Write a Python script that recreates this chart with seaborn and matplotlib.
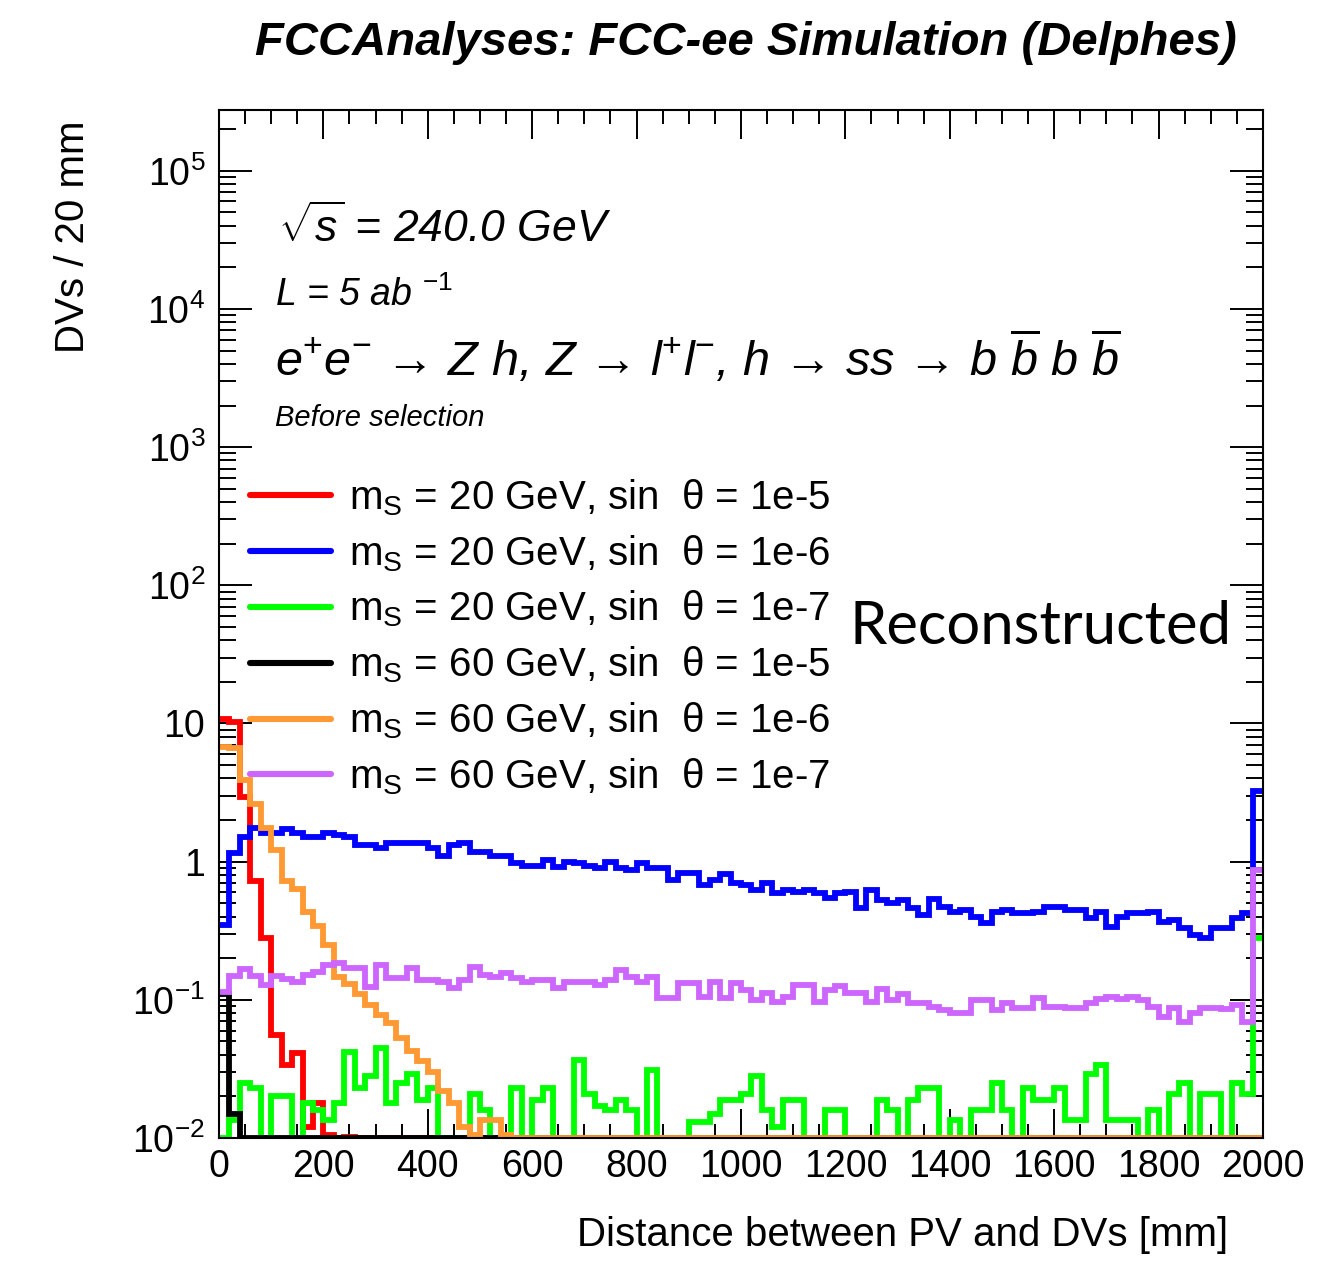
import numpy as np
import pandas as pd
import matplotlib
matplotlib.use("Agg")
import matplotlib.pyplot as plt
from matplotlib.ticker import FixedLocator, MultipleLocator, LogLocator, NullFormatter
import seaborn as sns

# ---------------------------------------------------------------------------
# Distance between primary vertex and displaced vertices, 20 mm bins (0-2000 mm)
# ---------------------------------------------------------------------------
bin_width = 20.0
x_min, x_max = 0.0, 2000.0
y_min, y_max = 1e-2, 2.75e5

labels = [
    r"$\mathrm{m}_{\mathrm{S}}$ = 20 GeV, sin  θ = 1e-5",
    r"$\mathrm{m}_{\mathrm{S}}$ = 20 GeV, sin  θ = 1e-6",
    r"$\mathrm{m}_{\mathrm{S}}$ = 20 GeV, sin  θ = 1e-7",
    r"$\mathrm{m}_{\mathrm{S}}$ = 60 GeV, sin  θ = 1e-5",
    r"$\mathrm{m}_{\mathrm{S}}$ = 60 GeV, sin  θ = 1e-6",
    r"$\mathrm{m}_{\mathrm{S}}$ = 60 GeV, sin  θ = 1e-7",
]
colors = ["#ff0000", "#0000ff", "#00ff00", "#000000", "#ff9933", "#cc66ff"]

ms20_1e5 = [10.7, 10.2, 2.96, 0.72, 0.28, 0.056, 0.034, 0.041, 0.012, 0.018,
            0.0105, 0, 0.0102] + [0] * 87

ms20_1e6 = [0.350, 1.16, 1.52, 1.76, 1.62, 1.62, 1.71, 1.62, 1.52, 1.52,
            1.62, 1.57, 1.52, 1.33, 1.33, 1.26, 1.37, 1.37, 1.37, 1.37,
            1.26, 1.09, 1.33, 1.37, 1.18, 1.18, 1.09, 1.09, 0.983, 0.935,
            0.935, 1.03, 0.920, 1.00, 0.983, 0.935, 0.905, 1.00, 0.905, 0.875,
            0.983, 0.905, 0.905, 0.741, 0.832, 0.832, 0.681, 0.741, 0.818, 0.704,
            0.681, 0.627, 0.704, 0.596, 0.627, 0.606, 0.627, 0.596, 0.548, 0.596,
            0.606, 0.464, 0.627, 0.530, 0.505, 0.530, 0.464, 0.413, 0.539, 0.472,
            0.434, 0.449, 0.399, 0.361, 0.434, 0.449, 0.427, 0.427, 0.434, 0.472,
            0.472, 0.449, 0.449, 0.393, 0.434, 0.338, 0.399, 0.427, 0.427, 0.434,
            0.367, 0.380, 0.333, 0.296, 0.281, 0.333, 0.333, 0.393, 0.427, 3.22]

ms20_1e7 = [0, 0.0135, 0.025, 0.023, 0, 0.020, 0.020, 0, 0.018, 0.016,
            0.0135, 0.018, 0.042, 0.023, 0.028, 0.045, 0.018, 0.025, 0.029, 0.019,
            0.023, 0, 0, 0, 0.021, 0.016, 0, 0, 0.023, 0,
            0.019, 0.023, 0, 0, 0.037, 0.021, 0.017, 0.016, 0.019, 0.016,
            0, 0.031, 0, 0, 0, 0.013, 0.013, 0.015, 0.019, 0.019,
            0.021, 0.028, 0.016, 0.012, 0.019, 0.019, 0, 0, 0.016, 0.016,
            0, 0, 0, 0.019, 0.016, 0, 0.019, 0.023, 0.023, 0,
            0.0135, 0, 0.016, 0.016, 0.025, 0.016, 0, 0.023, 0.019, 0.019,
            0.023, 0.0135, 0.0135, 0.029, 0.034, 0.0135, 0.0135, 0.0135, 0, 0.016,
            0, 0.021, 0.025, 0, 0.021, 0.021, 0, 0.025, 0.021, 0.28]

ms60_1e5 = [0.11, 0.015] + [0] * 98

ms60_1e6 = [6.8, 6.6, 3.9, 2.6, 1.76, 1.22, 0.72, 0.63, 0.43, 0.34,
            0.25, 0.147, 0.13, 0.11, 0.092, 0.078, 0.068, 0.053, 0.043, 0.036,
            0.030, 0.022, 0.018, 0.012, 0.0105, 0.0135, 0.0135, 0.0105] + [0] * 72

ms60_1e7 = [0.114, 0.149, 0.168, 0.149, 0.128, 0.149, 0.142, 0.135, 0.152, 0.160,
            0.179, 0.185, 0.171, 0.171, 0.124, 0.179, 0.144, 0.144, 0.171, 0.140,
            0.140, 0.135, 0.122, 0.140, 0.173, 0.152, 0.147, 0.157, 0.144, 0.135,
            0.140, 0.140, 0.122, 0.135, 0.135, 0.135, 0.128, 0.140, 0.165, 0.147,
            0.135, 0.147, 0.103, 0.103, 0.133, 0.133, 0.105, 0.135, 0.103, 0.133,
            0.118, 0.100, 0.112, 0.0967, 0.105, 0.128, 0.128, 0.0967, 0.118, 0.126,
            0.112, 0.112, 0.0967, 0.120, 0.100, 0.1105, 0.0951, 0.0951, 0.0890, 0.0847,
            0.0805, 0.0805, 0.100, 0.100, 0.0847, 0.0951, 0.0875, 0.0875, 0.103, 0.089,
            0.089, 0.0875, 0.0875, 0.0951, 0.102, 0.105, 0.102, 0.105, 0.100, 0.089,
            0.0753, 0.0875, 0.0693, 0.0805, 0.0875, 0.0875, 0.0861, 0.092, 0.0693, 0.875]

series = [ms20_1e5, ms20_1e6, ms20_1e7, ms60_1e5, ms60_1e6, ms60_1e7]

x_ticks = [0, 200, 400, 600, 800, 1000, 1200, 1400, 1600, 1800, 2000]
y_ticks = [1e-2, 1e-1, 1, 10, 1e2, 1e3, 1e4, 1e5]
y_tick_labels = [r"$10^{-2}$", r"$10^{-1}$", "1", "10",
                 r"$10^{2}$", r"$10^{3}$", r"$10^{4}$", r"$10^{5}$"]

# ---------------------------------------------------------------------------
# Long-form table of step outlines (empty bins sit on the lower frame edge)
# ---------------------------------------------------------------------------
edges = np.arange(x_min, x_max + bin_width / 2, bin_width)
frames = []
for lab, vals in zip(labels, series):
    v = np.clip(np.asarray(vals, dtype=float), y_min, None)
    frames.append(pd.DataFrame({
        "x": edges,
        "y": np.concatenate([v, [v[-1]]]),
        "series": lab,
    }))
df = pd.concat(frames, ignore_index=True)

# ---------------------------------------------------------------------------
# Style
# ---------------------------------------------------------------------------
sns.set_theme(style="ticks")
plt.rcParams["font.family"] = ["Liberation Sans", "DejaVu Sans"]
plt.rcParams["mathtext.fontset"] = "custom"
plt.rcParams["mathtext.rm"] = "Liberation Sans"
plt.rcParams["mathtext.it"] = "Liberation Sans:italic"
plt.rcParams["mathtext.bf"] = "Liberation Sans:bold"
plt.rcParams["mathtext.sf"] = "Liberation Sans"
for key in ["text.color", "axes.labelcolor", "xtick.color", "ytick.color",
            "axes.edgecolor", "xtick.labelcolor", "ytick.labelcolor"]:
    plt.rcParams[key] = "black"

fig = plt.figure(figsize=(13.32, 12.69), dpi=100, facecolor="white")
ax = fig.add_axes([0.1644, 0.1032, 0.7838, 0.8101])
ax.set_facecolor("white")
ax.set_yscale("log")

sns.lineplot(data=df, x="x", y="y", hue="series", hue_order=labels,
             palette=colors, estimator=None, sort=False,
             drawstyle="steps-post", linewidth=4.2, legend=False, ax=ax,
             solid_joinstyle="miter")

ax.set_xlim(x_min, x_max)
ax.set_ylim(y_min, y_max)
ax.set_xlabel("")
ax.set_ylabel("")

ax.xaxis.set_major_locator(FixedLocator(x_ticks))
ax.xaxis.set_minor_locator(MultipleLocator(50))
ax.set_xticklabels([str(t) for t in x_ticks])
ax.yaxis.set_major_locator(FixedLocator(y_ticks))
ax.set_yticklabels(y_tick_labels)
ax.yaxis.set_minor_locator(LogLocator(base=10, subs=np.arange(2, 10)))
ax.yaxis.set_minor_formatter(NullFormatter())

ax.tick_params(which="both", direction="in", top=True, right=True,
               width=1.4, color="black", labelcolor="black")
ax.tick_params(axis="x", which="major", length=21, labelsize=27, pad=8)
ax.tick_params(axis="x", which="minor", length=10)
ax.tick_params(axis="y", which="major", length=24, labelsize=27, pad=10)
ax.tick_params(axis="y", which="minor", length=12)
for sp in ax.spines.values():
    sp.set_linewidth(1.5)
    sp.set_color("black")
    sp.set_zorder(5)

# Legend
leg = ax.legend(ax.lines[:6], labels, loc="upper left",
                bbox_to_anchor=(0.0297, 0.643), frameon=False, fontsize=29,
                handlelength=2.0, handletextpad=0.45, labelspacing=0.38,
                borderpad=0, borderaxespad=0, labelcolor="black")
for h in leg.get_lines():
    h.set_linewidth(4.4)

# Annotations inside the frame
ax.text(0.0565, 0.885, r"$\sqrt{s}$ = 240.0 GeV", transform=ax.transAxes,
        fontsize=32, fontstyle="italic", ha="left", va="center")
ax.text(0.0536, 0.820, r"L = 5 ab $^{-1}$", transform=ax.transAxes,
        fontsize=27, fontstyle="italic", ha="left", va="center")
ax.text(0.0536, 0.759,
        r"e$^{+}$e$^{-}$ → Z h, Z → l$^{+}$l$^{-}$, h → ss → b $\overline{b}$ b $\overline{b}$",
        transform=ax.transAxes, fontsize=35, fontstyle="italic",
        ha="left", va="center")
ax.text(0.0536, 0.7004, "Before selection", transform=ax.transAxes,
        fontsize=21, fontstyle="italic", ha="left", va="center")

# Titles and axis names
fig.text(0.56, 0.966, "FCCAnalyses: FCC-ee Simulation (Delphes)",
         fontsize=34, fontweight="bold", fontstyle="italic",
         ha="center", va="center")
fig.text(0.0548, 0.9054, "DVs / 20 mm", rotation=90, fontsize=29,
         ha="center", va="top")
fig.text(0.922, 0.0268, "Distance between PV and DVs [mm]", fontsize=29,
         ha="right", va="center")
fig.text(0.638, 0.506, "Reconstructed", family=["Lato", "DejaVu Sans"],
         fontsize=43, ha="left", va="center")

fig.savefig("out.png", dpi=100, facecolor="white")
